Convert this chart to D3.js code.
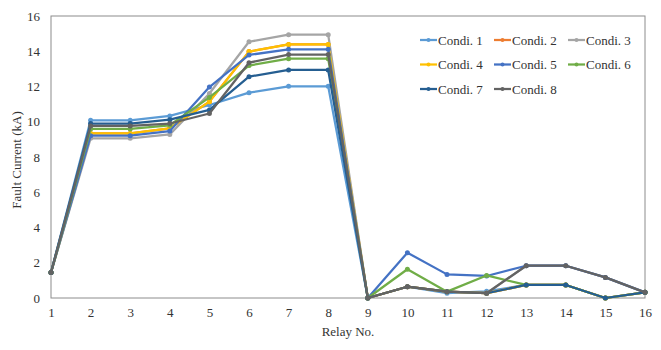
<!DOCTYPE html>
<html>
<head>
<meta charset="utf-8">
<script src="https://cdn.jsdelivr.net/npm/d3@7"></script>
<style>
  body { margin: 0; background: #fff; }
  text { font-family: "Liberation Serif", "Times New Roman", serif; fill: #333; }
</style>
</head>
<body>
<div id="chart"></div>
<script>
// relay numbers on the x axis
const relays = [1, 2, 3, 4, 5, 6, 7, 8, 9, 10, 11, 12, 13, 14, 15, 16];
const yTicks = [0, 2, 4, 6, 8, 10, 12, 14, 16];

// fault current (kA) for each condition
const condi1 = [1.45, 10.08, 10.08, 10.33, 10.95, 11.65, 12.01, 12.01, 0, 0.64, 0.27, 0.38, 0.74, 0.74, 0, 0.32];
const condi2 = [1.45, 9.34, 9.34, 9.63, 11.14, 13.98, 14.39, 14.39, 0, 0.64, 0.36, 0.27, 0.74, 0.74, 0, 0.32];
const condi3 = [1.45, 9.06, 9.06, 9.28, 11.6, 14.54, 14.94, 14.94, 0, 0.64, 0.36, 0.27, 1.83, 1.83, 1.17, 0.32];
const condi4 = [1.45, 9.34, 9.34, 9.63, 11.14, 13.98, 14.39, 14.39, 0, 0.64, 0.36, 0.27, 0.74, 0.74, 0, 0.32];
const condi5 = [1.45, 9.21, 9.21, 9.47, 11.97, 13.79, 14.11, 14.11, 0, 2.57, 1.34, 1.25, 1.83, 1.83, 1.17, 0.32];
const condi6 = [1.45, 9.59, 9.59, 9.8, 11.38, 13.19, 13.58, 13.58, 0, 1.63, 0.36, 1.28, 0.74, 0.74, 0, 0.32];
const condi7 = [1.45, 9.9, 9.9, 10.12, 10.67, 12.56, 12.94, 12.94, 0, 0.64, 0.36, 0.27, 0.74, 0.74, 0, 0.32];
const condi8 = [1.45, 9.76, 9.76, 9.9, 10.47, 13.35, 13.81, 13.81, 0, 0.64, 0.36, 0.27, 1.83, 1.83, 1.17, 0.32];

const names = ["Condi. 1", "Condi. 2", "Condi. 3", "Condi. 4", "Condi. 5", "Condi. 6", "Condi. 7", "Condi. 8"];
const colors = ["#5B9BD5", "#ED7D31", "#A5A5A5", "#FFC000", "#4472C4", "#70AD47", "#255E91", "#636363"];

const series = [condi1, condi2, condi3, condi4, condi5, condi6, condi7, condi8].map((v, i) => ({
  name: names[i], color: colors[i], values: v
}));

const width = 661, height = 350;
const margin = { left: 51, right: 16, top: 16, bottom: 52 };

const svg = d3.select("#chart").append("svg")
  .attr("width", width)
  .attr("height", height);

const x = d3.scaleLinear().domain([1, 16]).range([margin.left, width - margin.right]);
const y = d3.scaleLinear().domain([0, 16]).range([height - margin.bottom, margin.top]);

// plot frame
svg.append("rect")
  .attr("x", x(1)).attr("y", y(16))
  .attr("width", x(16) - x(1)).attr("height", y(0) - y(16))
  .attr("fill", "none").attr("stroke", "#8c8c8c").attr("stroke-width", 1);

// axes, no tick lines
const yAxis = svg.append("g")
  .attr("transform", `translate(${x(1)},0)`)
  .call(d3.axisLeft(y).tickValues(yTicks).tickSize(0).tickPadding(11));
yAxis.select(".domain").remove();
yAxis.selectAll("text").style("font-size", "13px").style("font-family", "Liberation Serif").attr("fill", "#333");

const xAxis = svg.append("g")
  .attr("transform", `translate(0,${y(0)})`)
  .call(d3.axisBottom(x).tickValues(relays).tickFormat(d3.format("d")).tickSize(0).tickPadding(10));
xAxis.select(".domain").remove();
xAxis.selectAll("text").style("font-size", "13px").style("font-family", "Liberation Serif").attr("fill", "#333");

// axis titles
svg.append("text")
  .attr("x", 348).attr("y", 336)
  .attr("text-anchor", "middle")
  .style("font-size", "13px")
  .text("Relay No.");

svg.append("text")
  .attr("transform", "translate(21,160) rotate(-90)")
  .attr("text-anchor", "middle")
  .style("font-size", "13px")
  .text("Fault Current (kA)");

// lines + markers
const line = d3.line()
  .x((d, i) => x(relays[i]))
  .y(d => y(d));

const g = svg.selectAll(".series")
  .data(series)
  .join("g")
  .attr("class", "series");

g.append("path")
  .attr("d", d => line(d.values))
  .attr("fill", "none")
  .attr("stroke", d => d.color)
  .attr("stroke-width", 2.25)
  .attr("stroke-linejoin", "round");

g.selectAll("circle")
  .data(d => d.values.map((v, i) => ({ v: v, i: i, color: d.color })))
  .join("circle")
  .attr("cx", d => x(relays[d.i]))
  .attr("cy", d => y(d.v))
  .attr("r", 2.5)
  .attr("fill", d => d.color);

// legend, 3 columns
const legend = svg.append("g");
const item = legend.selectAll("g")
  .data(series)
  .join("g")
  .attr("transform", (d, i) => `translate(${420 + (i % 3) * 74},${40 + Math.floor(i / 3) * 24.5})`);

item.append("line")
  .attr("x1", 0).attr("x2", 17)
  .attr("stroke", d => d.color)
  .attr("stroke-width", 2.25);
item.append("circle")
  .attr("cx", 8.5).attr("r", 2)
  .attr("fill", d => d.color);
item.append("text")
  .attr("x", 18).attr("y", 0)
  .attr("dy", "0.35em")
  .style("font-size", "13px")
  .text(d => d.name);
</script>
</body>
</html>
